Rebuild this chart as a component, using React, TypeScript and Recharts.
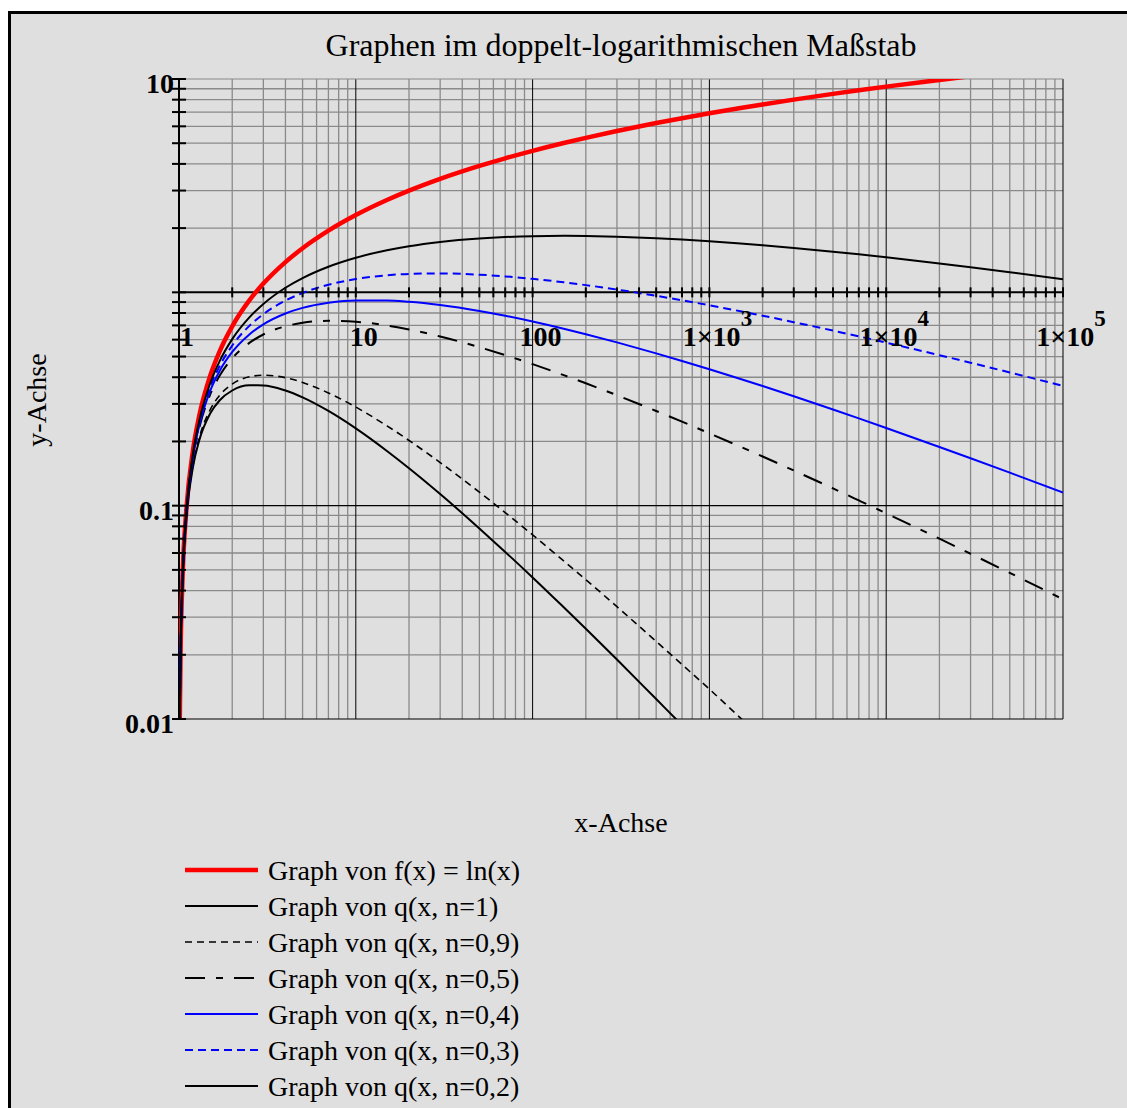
import React from "react";
import { LineChart, Line, XAxis, YAxis, ReferenceLine, ReferenceDot } from "recharts";

const FONT = '"Liberation Serif", "Times New Roman", serif';

// Stützstellen auf der x-Achse
const xs = [
  1.01, 1.02, 1.05, 1.1, 1.2, 1.3, 1.5, 1.7, 2, 2.5, 3, 4, 5, 7, 10, 15, 20, 30, 50, 70, 100,
  150, 200, 300, 500, 700, 1000, 1500, 2000, 3000, 5000, 7000, 10000, 20000, 30000, 50000, 100000,
];

// f(x) = ln(x)
const lnVals = [
  0.00995, 0.0198, 0.0488, 0.0953, 0.1823, 0.2624, 0.4055, 0.5306, 0.6931, 0.9163, 1.0986,
  1.3863, 1.6094, 1.9459, 2.3026, 2.7081, 2.9957, 3.4012, 3.912, 4.2485, 4.6052, 5.0106,
  5.2983, 5.7038, 6.2146, 6.5511, 6.9078, 7.3132, 7.6009, 8.0064, 8.5172, 8.8537, 9.2103,
  9.9035, 10.309, 10.82, 11.513,
];

// q(x, n) für n = 1 ... 0,2 (n=1 und n=0,9 verlassen unten das Diagramm)
const q10 = [
  0.00985, 0.0194, 0.0465, 0.0867, 0.1519, 0.2018, 0.2703, 0.3121, 0.3466, 0.3665, 0.3662,
  0.3466, 0.3219, 0.278, 0.2303, 0.1805, 0.1498, 0.1134, 0.0782, 0.0607, 0.0461, 0.0334,
  0.0265, 0.019, 0.0124, 0.00936, 0.0069,
];
const q09 = [
  0.00986, 0.0195, 0.0467, 0.0875, 0.1547, 0.2072, 0.2815, 0.3291, 0.3715, 0.4017, 0.4087,
  0.3981, 0.3781, 0.3377, 0.2899, 0.2367, 0.2021, 0.1593, 0.1157, 0.0928, 0.073, 0.0551,
  0.045, 0.0336, 0.0231, 0.018, 0.0138, 0.0101, 0.0081, 0.0059,
];
const q05 = [
  0.0099, 0.0196, 0.0476, 0.0909, 0.1664, 0.2301, 0.3311, 0.407, 0.4901, 0.5795, 0.6343,
  0.6931, 0.7198, 0.7355, 0.7281, 0.6992, 0.6699, 0.621, 0.5532, 0.5078, 0.4605, 0.4091,
  0.3747, 0.3293, 0.2779, 0.2476, 0.2184, 0.1888, 0.17, 0.1462, 0.1205, 0.1058, 0.0921, 0.07,
  0.0595, 0.0484, 0.0364,
];
const q04 = [
  0.0099, 0.0196, 0.0479, 0.0917, 0.1695, 0.2362, 0.3448, 0.4292, 0.5253, 0.6351, 0.7079,
  0.7962, 0.8454, 0.8935, 0.9167, 0.9167, 0.9038, 0.8725, 0.8181, 0.7766, 0.7299, 0.6752,
  0.6364, 0.5825, 0.5174, 0.4767, 0.4359, 0.3924, 0.3636, 0.3255, 0.2823, 0.2566, 0.2314,
  0.1885, 0.1669, 0.1428, 0.1151,
];
const q03 = [
  0.00992, 0.0197, 0.0481, 0.0926, 0.1726, 0.2425, 0.359, 0.4525, 0.563, 0.6961, 0.7902,
  0.9146, 0.9931, 1.0854, 1.154, 1.2018, 1.2195, 1.2261, 1.2098, 1.1877, 1.1568, 1.1145,
  1.081, 1.0305, 0.9631, 0.9178, 0.8696, 0.8152, 0.7771, 0.7248, 0.6617, 0.6217, 0.5811,
  0.5076, 0.4679, 0.4212, 0.3641,
];
const q02 = [
  0.00993, 0.0197, 0.0483, 0.0935, 0.1758, 0.249, 0.3739, 0.4772, 0.6034, 0.7629, 0.8819,
  1.0506, 1.1665, 1.3186, 1.4528, 1.5756, 1.6455, 1.7227, 1.789, 1.8164, 1.8334, 1.8394,
  1.8363, 1.8227, 1.7932, 1.7672, 1.7352, 1.6938, 1.6621, 1.6145, 1.5506, 1.507, 1.4598,
  1.3664, 1.3116, 1.2429, 1.1513,
];

// Gitter: Dekaden und Zwischenwerte 2..9
const MULT = [2, 3, 4, 5, 6, 7, 8, 9];
const X_DECADES = [1, 10, 100, 1000, 10000];
const Y_DECADES = [0.01, 0.1, 1];
const X_MAJOR = [10, 100, 1000, 10000, 100000];
const Y_MAJOR = [0.01, 0.1, 10];
const xMinor = X_DECADES.flatMap((d) => MULT.map((m) => Number((m * d).toPrecision(3))));
const yMinor = Y_DECADES.flatMap((d) => MULT.map((m) => Number((m * d).toPrecision(3))));

const X_LABELS = [
  { v: 1, text: "1" },
  { v: 10, text: "10" },
  { v: 100, text: "100" },
  { v: 1000, text: "1×10", exp: "3" },
  { v: 10000, text: "1×10", exp: "4" },
  { v: 100000, text: "1×10", exp: "5" },
];
const Y_LABELS = [
  { v: 10, text: "10" },
  { v: 0.1, text: "0.1" },
  { v: 0.01, text: "0.01" },
];

const SERIES = [
  { key: "f", label: "Graph von f(x) = ln(x)", color: "#ff0000", width: 4.5, dash: undefined },
  { key: "n10", label: "Graph von q(x, n=1)", color: "#000000", width: 2, dash: undefined },
  { key: "n09", label: "Graph von q(x, n=0,9)", color: "#000000", width: 1.6, dash: "7 5" },
  { key: "n05", label: "Graph von q(x, n=0,5)", color: "#000000", width: 2, dash: "20 11 7 11" },
  { key: "n04", label: "Graph von q(x, n=0,4)", color: "#0000ff", width: 2, dash: undefined },
  { key: "n03", label: "Graph von q(x, n=0,3)", color: "#0000ff", width: 2, dash: "8 5" },
  { key: "n02", label: "Graph von q(x, n=0,2)", color: "#000000", width: 2, dash: undefined },
];

const rows = xs.map((x, i) => ({
  x,
  f: lnVals[i],
  n10: q10[i] ?? null,
  n09: q09[i] ?? null,
  n05: q05[i] ?? null,
  n04: q04[i] ?? null,
  n03: q03[i] ?? null,
  n02: q02[i] ?? null,
}));

const GRID = "#8a8a8a";
const TICK_FONT = 28;

export default function App() {
  return (
    <div style={{ position: "relative", width: 1127, height: 1108, overflow: "hidden", background: "#fff", fontFamily: FONT }}>
      <style>{`body{margin:0;overflow:hidden}`}</style>
      <div
        style={{
          position: "absolute",
          left: 8,
          top: 11,
          width: 1200,
          height: 1200,
          borderLeft: "3px solid #000",
          borderTop: "3px solid #000",
          background: "#dfdfdf",
        }}
      />

      <div style={{ position: "absolute", left: 0, top: 0 }}>
        <LineChart
          width={1127}
          height={1108}
          data={rows}
          margin={{ top: 79, left: 179, right: 64, bottom: 389 }}
        >
          <XAxis type="number" dataKey="x" scale="log" domain={[1, 100000]} allowDataOverflow hide />
          <YAxis type="number" scale="log" domain={[0.01, 10]} allowDataOverflow hide />

          {/* Gitterlinien */}
          {xMinor.map((v) => (
            <ReferenceLine key={`gx${v}`} x={v} stroke={GRID} strokeWidth={1.3} />
          ))}
          {yMinor.map((v) => (
            <ReferenceLine key={`gy${v}`} y={v} stroke={GRID} strokeWidth={1.3} />
          ))}
          {X_MAJOR.map((v) => (
            <ReferenceLine key={`mx${v}`} x={v} stroke="#000" strokeWidth={1} />
          ))}
          {Y_MAJOR.map((v) => (
            <ReferenceLine key={`my${v}`} y={v} stroke={v === 10 ? GRID : "#000"} strokeWidth={1.2} />
          ))}

          {/* Achsen: x-Achse bei y = 1, y-Achse bei x = 1 */}
          <ReferenceLine y={1} stroke="#000" strokeWidth={2} />
          <ReferenceLine x={1} stroke="#000" strokeWidth={2} />

          {[...xMinor, ...X_MAJOR].map((v) => (
            <ReferenceDot
              key={`tx${v}`}
              x={v}
              y={1}
              shape={(p: any) => (
                <line x1={p.cx} x2={p.cx} y1={p.cy - 5} y2={p.cy + 5} stroke="#000" strokeWidth={2} />
              )}
            />
          ))}
          {[0.01, ...yMinor, 0.1, 1, 10].map((v) => (
            <ReferenceDot
              key={`ty${v}`}
              x={1}
              y={v}
              shape={(p: any) => (
                <line x1={p.cx - 7} x2={p.cx + 7} y1={p.cy} y2={p.cy} stroke="#000" strokeWidth={2} />
              )}
            />
          ))}

          {X_LABELS.map((l) => (
            <ReferenceDot
              key={`lx${l.v}`}
              x={l.v}
              y={1}
              shape={(p: any) => (
                <text
                  x={p.cx + 8}
                  y={p.cy + 54}
                  textAnchor="middle"
                  fontFamily={FONT}
                  fontWeight="bold"
                  fontSize={TICK_FONT}
                  fill="#000"
                >
                  {l.text}
                  {l.exp && (
                    <tspan dy={-20} fontSize={23}>
                      {l.exp}
                    </tspan>
                  )}
                </text>
              )}
            />
          ))}
          {Y_LABELS.map((l) => (
            <ReferenceDot
              key={`ly${l.v}`}
              x={1}
              y={l.v}
              shape={(p: any) => (
                <text
                  x={p.cx - 5}
                  y={p.cy + 14}
                  textAnchor="end"
                  fontFamily={FONT}
                  fontWeight="bold"
                  fontSize={TICK_FONT}
                  fill="#000"
                >
                  {l.text}
                </text>
              )}
            />
          ))}

          {SERIES.map((s) => (
            <Line
              key={s.key}
              type="monotone"
              dataKey={s.key}
              stroke={s.color}
              strokeWidth={s.width}
              strokeDasharray={s.dash}
              dot={false}
              activeDot={false}
              isAnimationActive={false}
            />
          ))}
        </LineChart>
      </div>

      {/* Titel, Achsenbeschriftungen und Legende */}
      <svg
        width={1127}
        height={1108}
        style={{ position: "absolute", left: 0, top: 0, pointerEvents: "none" }}
        fontFamily={FONT}
      >
        <text x={621} y={56} textAnchor="middle" fontSize={32} fill="#000">
          Graphen im doppelt-logarithmischen Maßstab
        </text>
        <text x={621} y={832} textAnchor="middle" fontSize={28} fill="#000">
          x-Achse
        </text>
        <text x={46} y={400} textAnchor="middle" fontSize={28} fill="#000" transform="rotate(-90 46 400)">
          y-Achse
        </text>
        {SERIES.map((s, i) => {
          const y = 870 + i * 36;
          return (
            <g key={`lg${s.key}`}>
              <line
                x1={185}
                x2={258}
                y1={y}
                y2={y}
                stroke={s.color}
                strokeWidth={s.width}
                strokeDasharray={s.dash}
              />
              <text x={268} y={y + 10} fontSize={28} fill="#000">
                {s.label}
              </text>
            </g>
          );
        })}
      </svg>
    </div>
  );
}
